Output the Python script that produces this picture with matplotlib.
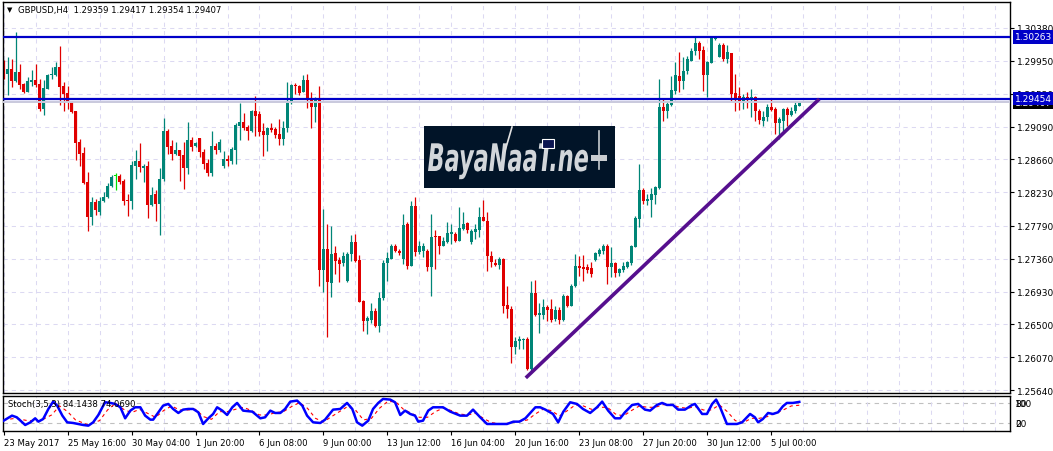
import numpy as np
import matplotlib
matplotlib.use("Agg")
import matplotlib.pyplot as plt
from matplotlib.patches import Rectangle, PathPatch
from matplotlib.lines import Line2D
from matplotlib.textpath import TextPath
from matplotlib.font_manager import FontProperties
from matplotlib.transforms import Affine2D, IdentityTransform, blended_transform_factory

W, H = 1053, 452

BULL = "#008577"
BEAR = "#E00000"
DOJI = "#00E000"
GRID = "#DCD9F2"
LEVEL_BLUE = "#0000C8"
TREND = "#560F8E"

SYMBOL = "GBPUSD,H4"

# H4 bars, 23 May 2017 -> 5 Jul 2017
opens = [
    1.2991, 1.2978, 1.2984, 1.2969, 1.2980, 1.2965, 1.2954, 1.2967, 1.2970, 1.2965,
    1.2932, 1.2958, 1.2976, 1.2976, 1.2987, 1.2962, 1.2953, 1.2941, 1.2929, 1.2889,
    1.2874, 1.2836, 1.2790, 1.2810, 1.2797, 1.2811, 1.2817, 1.2831, 1.2844, 1.2844,
    1.2838, 1.2813, 1.2811, 1.2857, 1.2864, 1.2855, 1.2857, 1.2806, 1.2821, 1.2807,
    1.2840, 1.2903, 1.2883, 1.2873, 1.2878, 1.2872, 1.2855, 1.2891, 1.2883, 1.2894,
    1.2876, 1.2861, 1.2848, 1.2883, 1.2878, 1.2857, 1.2866, 1.2864, 1.2878, 1.2910,
    1.2915, 1.2908, 1.2903, 1.2929, 1.2925, 1.2903, 1.2898, 1.2907, 1.2906, 1.2899,
    1.2893, 1.2907, 1.2940, 1.2963, 1.2962, 1.2954, 1.2970, 1.2946, 1.2934, 1.2946,
    1.2721, 1.2749, 1.2704, 1.2743, 1.2734, 1.2730, 1.2707, 1.2742, 1.2758, 1.2734,
    1.2680, 1.2654, 1.2656, 1.2667, 1.2648, 1.2684, 1.2730, 1.2735, 1.2752, 1.2746,
    1.2735, 1.2781, 1.2726, 1.2805, 1.2745, 1.2746, 1.2746, 1.2725, 1.2766, 1.2766,
    1.2752, 1.2758, 1.2768, 1.2768, 1.2759, 1.2775, 1.2783, 1.2758, 1.2771, 1.2773,
    1.2790, 1.2785, 1.2739, 1.2730, 1.2728, 1.2735, 1.2676, 1.2670, 1.2621, 1.2628,
    1.2629, 1.2631, 1.2591, 1.2691, 1.2662, 1.2662, 1.2673, 1.2670, 1.2657, 1.2669,
    1.2656, 1.2687, 1.2674, 1.2700, 1.2726, 1.2725, 1.2725, 1.2724, 1.2734, 1.2742,
    1.2746, 1.2752, 1.2725, 1.2730, 1.2717, 1.2721, 1.2725, 1.2730, 1.2751, 1.2788,
    1.2826, 1.2811, 1.2813, 1.2819, 1.2828, 1.2934, 1.2929, 1.2937, 1.2955, 1.2975,
    1.2969, 1.2982, 1.2995, 1.3008, 1.3018, 1.3009, 1.2976, 1.2992, 1.3024, 1.3000,
    1.3016, 1.2997, 1.3005, 1.2953, 1.2949, 1.2942, 1.2948, 1.2944, 1.2948, 1.2929,
    1.2916, 1.2921, 1.2934, 1.2932, 1.2914, 1.2916, 1.2932, 1.2924, 1.2929, 1.29359,
]
highs = [
    1.2996, 1.3000, 1.2997, 1.3033, 1.2991, 1.2966, 1.2974, 1.2983, 1.2991, 1.2971,
    1.2970, 1.2978, 1.2987, 1.2994, 1.3014, 1.2967, 1.2962, 1.2942, 1.2929, 1.2893,
    1.2882, 1.2849, 1.2817, 1.2814, 1.2817, 1.2823, 1.2835, 1.2845, 1.2848, 1.2847,
    1.2840, 1.2821, 1.2864, 1.2878, 1.2887, 1.2860, 1.2864, 1.2830, 1.2826, 1.2855,
    1.2920, 1.2906, 1.2891, 1.2889, 1.2878, 1.2889, 1.2915, 1.2895, 1.2889, 1.2894,
    1.2880, 1.2866, 1.2903, 1.2887, 1.2893, 1.2877, 1.2872, 1.2882, 1.2914, 1.2940,
    1.2927, 1.2911, 1.2931, 1.2949, 1.2929, 1.2914, 1.2908, 1.2914, 1.2908, 1.2919,
    1.2916, 1.2967, 1.2965, 1.2966, 1.2963, 1.2976, 1.2978, 1.2954, 1.2948, 1.2962,
    1.2801, 1.2781, 1.2779, 1.2752, 1.2738, 1.2745, 1.2745, 1.2767, 1.2768, 1.2741,
    1.2682, 1.2661, 1.2678, 1.2671, 1.2692, 1.2734, 1.2745, 1.2755, 1.2755, 1.2749,
    1.2794, 1.2784, 1.2811, 1.2817, 1.2759, 1.2756, 1.2749, 1.2794, 1.2773, 1.2766,
    1.2764, 1.2784, 1.2781, 1.2771, 1.2804, 1.2797, 1.2784, 1.2775, 1.2781, 1.2804,
    1.2813, 1.2797, 1.2746, 1.2735, 1.2738, 1.2737, 1.2700, 1.2674, 1.2633, 1.2635,
    1.2632, 1.2633, 1.2707, 1.2708, 1.2678, 1.2683, 1.2675, 1.2683, 1.2674, 1.2673,
    1.2690, 1.2688, 1.2703, 1.2742, 1.2739, 1.2741, 1.2729, 1.2732, 1.2745, 1.2750,
    1.2755, 1.2755, 1.2751, 1.2732, 1.2724, 1.2732, 1.2733, 1.2754, 1.2792, 1.2860,
    1.2828, 1.2821, 1.2828, 1.2831, 1.2971, 1.2945, 1.2941, 1.2975, 1.2994, 1.3007,
    1.3000, 1.3001, 1.3012, 1.3026, 1.3021, 1.3014, 1.2995, 1.3028, 1.3028, 1.3018,
    1.3018, 1.3016, 1.3005, 1.2978, 1.2961, 1.2951, 1.2954, 1.2958, 1.2949, 1.2932,
    1.2929, 1.2938, 1.2946, 1.2934, 1.2921, 1.2933, 1.2934, 1.2934, 1.2942, 1.29417,
]
lows = [
    1.2971, 1.2950, 1.2961, 1.2967, 1.2958, 1.2953, 1.2954, 1.2962, 1.2961, 1.2929,
    1.2924, 1.2958, 1.2971, 1.2975, 1.2937, 1.2929, 1.2932, 1.2927, 1.2865, 1.2857,
    1.2834, 1.2772, 1.2780, 1.2793, 1.2793, 1.2810, 1.2815, 1.2830, 1.2826, 1.2834,
    1.2806, 1.2792, 1.2801, 1.2840, 1.2849, 1.2836, 1.2789, 1.2805, 1.2785, 1.2767,
    1.2838, 1.2873, 1.2865, 1.2872, 1.2838, 1.2827, 1.2847, 1.2877, 1.2882, 1.2869,
    1.2853, 1.2844, 1.2844, 1.2873, 1.2876, 1.2855, 1.2857, 1.2860, 1.2860, 1.2891,
    1.2904, 1.2891, 1.2902, 1.2897, 1.2897, 1.2870, 1.2877, 1.2902, 1.2894, 1.2885,
    1.2885, 1.2902, 1.2938, 1.2951, 1.2950, 1.2954, 1.2933, 1.2907, 1.2915, 1.2700,
    1.2692, 1.2633, 1.2686, 1.2716, 1.2705, 1.2726, 1.2705, 1.2733, 1.2732, 1.2679,
    1.2642, 1.2637, 1.2652, 1.2646, 1.2640, 1.2682, 1.2707, 1.2735, 1.2745, 1.2741,
    1.2729, 1.2722, 1.2726, 1.2739, 1.2742, 1.2738, 1.2720, 1.2687, 1.2722, 1.2742,
    1.2752, 1.2756, 1.2755, 1.2758, 1.2759, 1.2773, 1.2770, 1.2755, 1.2762, 1.2764,
    1.2785, 1.2720, 1.2725, 1.2726, 1.2722, 1.2665, 1.2659, 1.2600, 1.2611, 1.2618,
    1.2618, 1.2590, 1.2587, 1.2661, 1.2639, 1.2657, 1.2654, 1.2653, 1.2654, 1.2650,
    1.2654, 1.2673, 1.2674, 1.2699, 1.2713, 1.2707, 1.2717, 1.2712, 1.2733, 1.2739,
    1.2742, 1.2703, 1.2712, 1.2712, 1.2714, 1.2718, 1.2724, 1.2728, 1.2751, 1.2777,
    1.2807, 1.2806, 1.2790, 1.2807, 1.2827, 1.2916, 1.2920, 1.2936, 1.2951, 1.2954,
    1.2958, 1.2978, 1.2995, 1.3003, 1.2997, 1.2955, 1.2948, 1.2992, 1.3022, 1.3000,
    1.2995, 1.2992, 1.2942, 1.2929, 1.2931, 1.2932, 1.2933, 1.2921, 1.2916, 1.2912,
    1.2910, 1.2916, 1.2929, 1.2899, 1.2893, 1.2903, 1.2910, 1.2923, 1.2927, 1.29354,
]
closes = [
    1.2972, 1.2984, 1.2969, 1.2980, 1.2963, 1.2954, 1.2969, 1.2970, 1.2963, 1.2932,
    1.2959, 1.2976, 1.2978, 1.2987, 1.2961, 1.2951, 1.2941, 1.2928, 1.2887, 1.2873,
    1.2835, 1.2790, 1.2810, 1.2800, 1.2811, 1.2817, 1.2831, 1.2843, 1.2844, 1.2836,
    1.2811, 1.2811, 1.2859, 1.2864, 1.2856, 1.2857, 1.2806, 1.2819, 1.2807, 1.2840,
    1.2903, 1.2882, 1.2873, 1.2878, 1.2870, 1.2855, 1.2891, 1.2882, 1.2887, 1.2876,
    1.2860, 1.2848, 1.2883, 1.2878, 1.2889, 1.2866, 1.2864, 1.2880, 1.2911, 1.2915,
    1.2907, 1.2903, 1.2929, 1.2923, 1.2902, 1.2898, 1.2907, 1.2904, 1.2898, 1.2893,
    1.2907, 1.2940, 1.2963, 1.2962, 1.2953, 1.2970, 1.2945, 1.2934, 1.2946, 1.2721,
    1.2749, 1.2705, 1.2742, 1.2733, 1.2729, 1.2739, 1.2742, 1.2758, 1.2733, 1.2679,
    1.2654, 1.2658, 1.2667, 1.2648, 1.2684, 1.2730, 1.2737, 1.2752, 1.2746, 1.2743,
    1.2780, 1.2726, 1.2805, 1.2745, 1.2752, 1.2752, 1.2725, 1.2764, 1.2764, 1.2752,
    1.2759, 1.2770, 1.2771, 1.2759, 1.2776, 1.2781, 1.2773, 1.2772, 1.2775, 1.2790,
    1.2785, 1.2739, 1.2732, 1.2728, 1.2735, 1.2674, 1.2670, 1.2621, 1.2628, 1.2631,
    1.2631, 1.2591, 1.2691, 1.2662, 1.2665, 1.2673, 1.2669, 1.2656, 1.2669, 1.2656,
    1.2687, 1.2674, 1.2700, 1.2726, 1.2724, 1.2722, 1.2721, 1.2716, 1.2743, 1.2747,
    1.2752, 1.2725, 1.2730, 1.2717, 1.2722, 1.2726, 1.2732, 1.2752, 1.2789, 1.2826,
    1.2811, 1.2814, 1.2821, 1.2830, 1.2934, 1.2929, 1.2938, 1.2957, 1.2976, 1.2969,
    1.2982, 1.2997, 1.3008, 1.3018, 1.3008, 1.2976, 1.2994, 1.3025, 1.3026, 1.3016,
    1.2997, 1.3007, 1.2951, 1.2946, 1.2942, 1.2948, 1.2946, 1.2948, 1.2929, 1.2917,
    1.2921, 1.2934, 1.2931, 1.2914, 1.2919, 1.2932, 1.2924, 1.2929, 1.2937, 1.29407,
]

price_ticks = [1.30380, 1.29950, 1.29520, 1.29090, 1.28660, 1.28230,
               1.27790, 1.27360, 1.26930, 1.26500, 1.26070, 1.25640]
levels = [1.30263, 1.29454]

# trend line anchors (bar index, price)
trend_bars = [130.6, 204.0]
trend_prices = [1.2580, 1.2945]

time_labels = ["23 May 2017", "25 May 16:00", "30 May 04:00", "1 Jun 20:00",
               "6 Jun 08:00", "9 Jun 00:00", "13 Jun 12:00", "16 Jun 04:00",
               "20 Jun 16:00", "23 Jun 08:00", "27 Jun 20:00", "30 Jun 12:00",
               "5 Jul 00:00"]

# Stochastic main (%K): (bar, value)
stoch_main = [
    (0, 28), (2.1, 43), (3.3, 38), (5.4, 15), (6.7, 23), (7.9, 35), (8.7, 25),
    (9.9, 33), (11.2, 63), (12.4, 85), (13.4, 73), (14.7, 43), (15.9, 23),
    (17.4, 21), (19.9, 15), (21.2, 13), (22.4, 23), (23.7, 45), (24.7, 68),
    (25.4, 83), (26.7, 81), (27.9, 78), (29.2, 68), (30.4, 35), (31.7, 58),
    (32.9, 68), (34.2, 68), (35.4, 43), (36.7, 31), (37.4, 31), (38.7, 53),
    (39.9, 73), (41.2, 78), (42.4, 63), (43.7, 51), (44.9, 61), (46.2, 63),
    (47.4, 63), (48.7, 53), (49.9, 18), (51.2, 35), (52.4, 48), (53.4, 68),
    (54.7, 58), (55.9, 45), (57.2, 68), (58.4, 81), (59.9, 58), (62.2, 55),
    (64.2, 35), (65.4, 38), (66.7, 58), (67.9, 51), (69.2, 51), (70.4, 63),
    (71.7, 85), (73.4, 88), (74.7, 73), (75.9, 43), (77.4, 23), (79.2, 21),
    (80.4, 31), (82.4, 61), (84.2, 63), (85.9, 81), (87.2, 63), (88.4, 23),
    (89.7, 13), (91.2, 28), (92.4, 63), (93.7, 81), (94.9, 93), (96.7, 91),
    (97.9, 83), (99.2, 45), (100.4, 58), (101.7, 48), (102.9, 43), (103.7, 25),
    (104.9, 28), (106.2, 58), (107.4, 68), (109.9, 68), (111.7, 55), (114.2, 43),
    (115.9, 43), (117.4, 61), (119.2, 38), (120.9, 18), (123.4, 18), (125.9, 18),
    (127.5, 25), (129, 25), (130.5, 35), (132, 55), (133, 68), (134.2, 68),
    (135.5, 61), (136.7, 53), (137.4, 48), (138.7, 23), (140.0, 55), (141.7, 83),
    (143.4, 78), (144.9, 63), (146.7, 51), (148.4, 68), (149.7, 85), (151.2, 58),
    (152.9, 35), (154.2, 35), (155.4, 53), (157.2, 75), (158.7, 78), (160.4, 61),
    (161.7, 58), (163.4, 75), (164.7, 81), (165.9, 75), (167.4, 75), (168.7, 61),
    (170.4, 61), (172.2, 75), (172.9, 78), (174.7, 48), (175.9, 48), (177.2, 78),
    (178.2, 91), (179.2, 68), (180.9, 18), (183.4, 18), (184.7, 23), (186.7, 48),
    (187.9, 38), (188.7, 23), (189.9, 33), (191.2, 51), (192.4, 48), (193.7, 53),
    (194.9, 71), (195.9, 81), (197.4, 81), (199, 84.14),
]
# Stochastic signal (%D), red dashed
stoch_signal = [
    (0, 30), (3, 35), (6, 28), (9, 27), (12, 45), (14, 72), (16, 55), (18, 30),
    (21, 16), (24, 28), (26, 60), (28, 80), (30, 62), (32, 52), (34, 62), (36, 50),
    (38, 38), (40, 58), (42, 72), (44, 60), (46, 60), (48, 62), (50, 40), (52, 32),
    (54, 55), (56, 55), (58, 62), (60, 68), (62, 58), (64, 45), (66, 45), (68, 52),
    (70, 55), (72, 70), (74, 82), (76, 65), (78, 35), (80, 24), (82, 40), (84, 55),
    (86, 70), (88, 60), (90, 30), (92, 35), (94, 65), (96, 85), (98, 85), (100, 62),
    (102, 50), (104, 38), (106, 38), (108, 55), (110, 66), (112, 58), (114, 48),
    (116, 45), (118, 50), (120, 35), (122, 22), (125, 18), (128, 24), (131, 30),
    (133, 48), (135, 63), (137, 58), (139, 42), (141, 58), (143, 75), (145, 72),
    (147, 62), (149, 68), (151, 68), (153, 48), (155, 42), (157, 58), (159, 72),
    (161, 68), (163, 68), (165, 76), (167, 76), (169, 68), (171, 65), (173, 70),
    (175, 60), (177, 60), (179, 75), (181, 55), (183, 28), (185, 22), (187, 35),
    (189, 35), (191, 40), (193, 50), (195, 60), (197, 72), (199, 74.07),
]
stoch_last = (84.1438, 74.0690)
stoch_levels = [20, 80]

FS = 6.5
FS_SMALL = 6.1

fig = plt.figure(figsize=(W / 100, H / 100), dpi=100)


def px_box(l, t, r, b):
    return [l / W, 1 - b / H, (r - l) / W, (b - t) / H]


ax = fig.add_axes(px_box(3, 3, 1010, 394))
sx = fig.add_axes(px_box(3, 397, 1010, 432))

o = np.array(opens)
h = np.array(highs)
l = np.array(lows)
c = np.array(closes)
bars = np.arange(len(c))
cols = [BULL if cc > oo else BEAR if cc < oo else DOJI for oo, cc in zip(o, c)]

ax.vlines(bars, l, h, colors=cols, lw=0.9, zorder=2)
ax.bar(bars, np.maximum(np.abs(c - o), 0.00012), bottom=np.minimum(o, c),
       width=0.78, color=cols, lw=0, zorder=2)

xlim = (-0.15, 251.7)
ax.set_xlim(*xlim)
ax.set_ylim(1.25602, 1.30720)

ax.set_xticks(np.arange(0, 252, 8))
ax.set_yticks(price_ticks)
ax.set_yticklabels([f"{v:.5f}" for v in price_ticks])
ax.grid(True, color=GRID, ls=(0, (4, 4)), lw=0.75)
ax.set_axisbelow(True)
ax.tick_params(axis="x", length=0, labelbottom=False)
ax.yaxis.tick_right()
ax.tick_params(axis="y", direction="out", length=3, width=0.8, pad=2,
               labelsize=FS, colors="black")
for sp in ax.spines.values():
    sp.set_color("black")
    sp.set_linewidth(1.0)

# bid line, levels, trend
ax.axhline(c[-1], color="#C9C9DD", lw=1.4, zorder=3)
for lv in levels:
    ax.axhline(lv, color=LEVEL_BLUE, lw=1.6, zorder=4)
ax.plot(trend_bars, trend_prices, color=TREND, lw=2.6, zorder=4,
        solid_capstyle="butt")

# price labels on the right scale
trans = blended_transform_factory(ax.transAxes, ax.transData)
ax.text(1 + 5 / 1007, c[-1], f"{c[-1]:.5f}", transform=trans, color="white",
        fontsize=FS, va="center", ha="left", zorder=5,
        bbox=dict(boxstyle="square,pad=0.25", fc="black", ec="none"))
for lv in levels:
    ax.text(1 + 5 / 1007, lv, f"{lv:.5f}", transform=trans, color="white",
            fontsize=FS, va="center", ha="left", zorder=6,
            bbox=dict(boxstyle="square,pad=0.25", fc=LEVEL_BLUE, ec="none"))

# header
fig.text(7 / W, 1 - 10 / H, "\u25bc", fontsize=5, va="center", ha="left")
fig.text(18 / W, 1 - 10 / H,
         f"{SYMBOL}  {o[-1]:.5f} {h[-1]:.5f} {l[-1]:.5f} {c[-1]:.5f}",
         fontsize=FS_SMALL, va="center", ha="left")

# watermark
ax.add_patch(Rectangle((0.418, 0.524), 0.190, 0.159, transform=ax.transAxes,
                       fc="#011428", ec="none", zorder=3))
tp = TextPath((0, 0), "BayaNaaT.ne", size=38,
              prop=FontProperties(family="DejaVu Sans", style="italic", weight="bold"))
ext = tp.get_extents()
k = 160 / ext.width
fig.add_artist(PathPatch(tp, fc="#D2D6DA", ec="none",
                         transform=Affine2D().scale(k, 1.0).translate(428 - ext.x0 * k, H - 172)))
fig.add_artist(Rectangle((591, H - 162), 16, 6, fc="#C8CCD0", ec="none",
                         transform=IdentityTransform()))
fig.add_artist(Line2D([599, 599], [H - 170, H - 132], color="#C8CCD0", lw=1.2,
                      transform=IdentityTransform()))
fig.add_artist(Rectangle((542, H - 149), 12, 9, fc="#0A1450", ec="white", lw=0.8,
                         transform=IdentityTransform()))
fig.add_artist(Line2D([505, 512], [H - 152, H - 128], color="#E0E0E0", lw=1.2,
                      transform=IdentityTransform()))

# stochastic window
mx, my = zip(*stoch_main)
gx, gy = zip(*stoch_signal)
sx.plot(gx, gy, color="#FF0000", lw=0.8, ls=(0, (3, 3)), zorder=2)
sx.plot(mx, my, color="#0000FF", lw=1.8, zorder=3)
for lvl in stoch_levels:
    sx.axhline(lvl, color="#C0C0C0", lw=0.8, ls=(0, (4, 4)), zorder=1)
sx.set_xlim(*xlim)
sx.set_ylim(-3, 101.8)
sx.set_yticks([])
sx.set_xticks(np.arange(0, 252, 8), minor=True)
sx.grid(True, which="minor", axis="x", color=GRID, ls=(0, (4, 4)), lw=0.75)
sx.set_xticks(np.arange(0, 16 * len(time_labels), 16))
sx.set_xticklabels(time_labels, fontsize=FS_SMALL, ha="left")
sx.tick_params(axis="x", which="major", length=3, width=0.8, direction="out", pad=2)
sx.tick_params(axis="x", which="minor", length=0)
for sp in sx.spines.values():
    sp.set_color("black")
    sp.set_linewidth(1.0)

# MT4 draws the 100/80 and 20/0 scale labels on top of each other
strans = blended_transform_factory(sx.transAxes, sx.transData)
for val, txt in [(80, "80"), (80, "100"), (20, "20"), (20, "0")]:
    sx.text(1 + 5 / 1007, val, txt, transform=strans, fontsize=FS,
            va="center", ha="left")
sx.text(5 / 1007, 0.78, f"Stoch(3,5,3) {stoch_last[0]:.4f} {stoch_last[1]:.4f}",
        transform=sx.transAxes, fontsize=FS_SMALL, va="center", ha="left", zorder=5)

fig.savefig("out.png", dpi=100)
